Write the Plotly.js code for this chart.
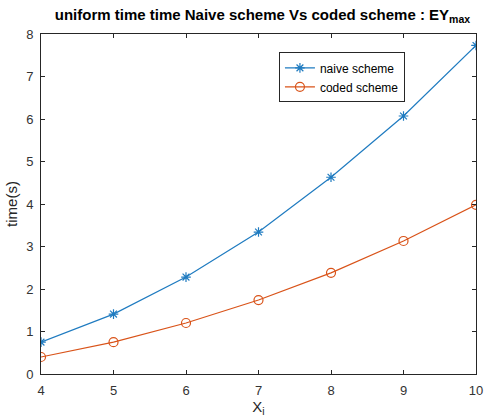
<!DOCTYPE html>
<html><head><meta charset="utf-8">
<script src="https://cdn.plot.ly/plotly-3.0.1.min.js"></script>
<style>html,body{margin:0;padding:0;background:#fff}#c{width:486px;height:419px}</style>
</head><body><div id="c"></div>
<script>
const xValues = [4, 5, 6, 7, 8, 9, 10];
const naiveTimes = [0.75, 1.41, 2.28, 3.34, 4.63, 6.07, 7.73];
const codedTimes = [0.40, 0.75, 1.20, 1.74, 2.38, 3.13, 3.98];
const seriesNames = ['naive scheme', 'coded scheme'];

const font = 'Arial, "Liberation Sans", Helvetica, sans-serif';
const traces = [
  {x: xValues, y: naiveTimes, name: seriesNames[0], mode: 'lines+markers',
   line: {color: '#1f7bc0', width: 1.2},
   marker: {symbol: 'asterisk-open', size: 8, color: '#1f7bc0', line: {color: '#1f7bc0', width: 1.2}}},
  {x: xValues, y: codedTimes, name: seriesNames[1], mode: 'lines+markers',
   line: {color: '#D95319', width: 1.2},
   marker: {symbol: 'circle-open', size: 9, color: '#D95319', line: {color: '#D95319', width: 1.2}}}
];
const axisCommon = {showgrid: false, zeroline: false, showline: true, mirror: 'ticks',
  linecolor: '#262626', linewidth: 1, ticks: 'inside', ticklen: 4, tickcolor: '#262626',
  ticklabelstandoff: 4,
  tickfont: {family: font, size: 13, color: '#333'}};
const layout = {
  width: 486, height: 419,
  margin: {l: 41, r: 10, t: 34, b: 45},
  paper_bgcolor: '#fff', plot_bgcolor: '#fff',
  font: {family: font, color: '#000'},
  title: {text: '<b>uniform time time Naive scheme Vs coded scheme : EY<sub>max</sub></b>',
    font: {family: font, size: 15, color: '#000'}, x: 0.54, xanchor: 'center', y: 0.965, yanchor: 'middle'},
  xaxis: Object.assign({}, axisCommon, {range: [4, 10], tickvals: xValues, ticktext: xValues.map(String),
    title: {text: 'X<sub>i</sub>', font: {family: font, size: 15, color: '#262626'}, standoff: 2}}),
  yaxis: Object.assign({}, axisCommon, {range: [0, 8], dtick: 1,
    title: {text: 'time(s)', font: {family: font, size: 15, color: '#262626'}, standoff: 4}}),
  legend: {x: 0.547, y: 0.946, xanchor: 'left', yanchor: 'top', bgcolor: '#fff',
    bordercolor: '#262626', borderwidth: 1, font: {family: font, size: 12, color: '#000'},
    itemwidth: 30, tracegroupgap: 0},
  showlegend: true
};
Plotly.newPlot('c', traces, layout, {displayModeBar: false, staticPlot: true});
</script></body></html>
